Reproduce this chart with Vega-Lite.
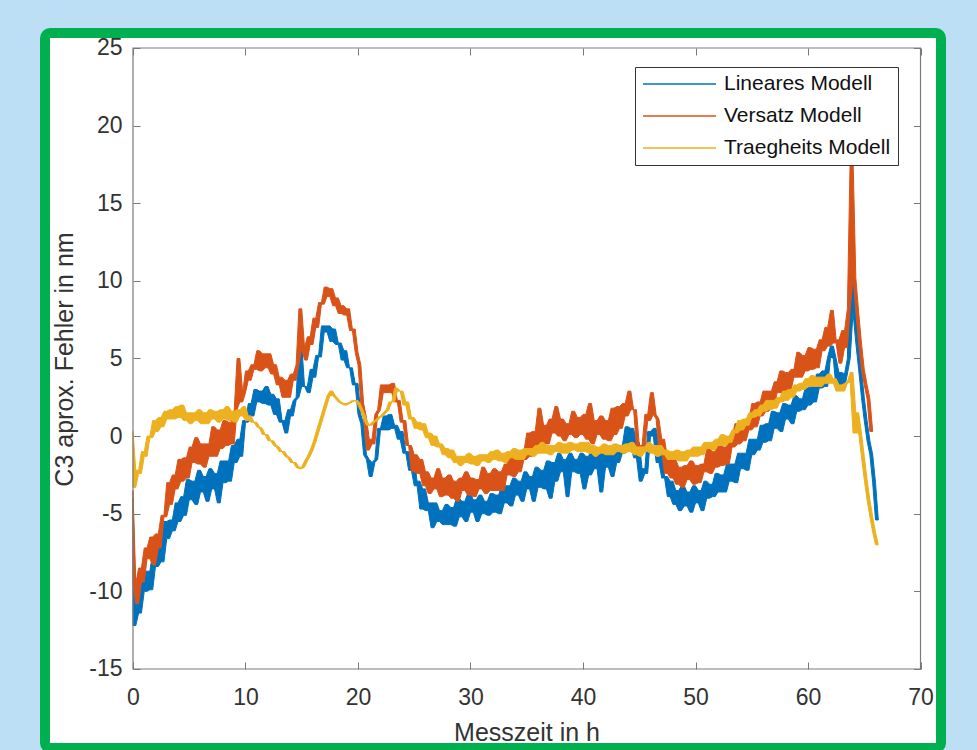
{
  "$schema": "https://vega.github.io/schema/vega-lite/v6.json",
  "width": 896,
  "height": 715,
  "autosize": {"type": "none"},
  "padding": {"left": 45, "top": 33, "right": 36, "bottom": 2},
  "background": "#BDDFF6",
  "config": {
    "font": "Liberation Sans",
    "view": {"fill": "white", "stroke": "#00B050", "strokeWidth": 10, "cornerRadius": 5},
    "axis": {"labelFont": "Liberation Sans", "titleFont": "Liberation Sans", "grid": false, "domain": false, "tickColor": "#7a7a7a", "tickWidth": 1, "tickSize": 7, "labelColor": "#333333", "titleColor": "#333333", "titleFontWeight": "normal", "labelFlush": false, "labelOverlap": false},
    "legend": {
      "orient": "none", "legendX": 590, "legendY": 34, "title": null,
      "symbolType": "stroke", "symbolSize": 5329, "symbolStrokeWidth": 1.5,
      "clipHeight": 20, "rowPadding": 11, "padding": 7,
      "strokeColor": "#333333", "fillColor": "white",
      "labelFontSize": 21, "labelFont": "Liberation Sans", "labelColor": "#111111", "labelOffset": 7, "labelLimit": 400
    }
  },
  "data": {"values": [
    {"t":0,"a":-4,"b":-3.5,"c":0.3},
    {"t":0.25,"a":-12.2,"b":-9.5,"c":-3.3},
    {"t":0.5,"a":-10.6,"b":-10.8,"c":-2.2},
    {"t":0.75,"a":-11.4,"b":-8.5,"c":-2.4},
    {"t":1,"a":-8.7,"b":-9.4,"c":-1.0},
    {"t":1.25,"a":-10.0,"b":-7.2,"c":-1.3},
    {"t":1.5,"a":-8.7,"b":-7.9,"c":0.0},
    {"t":1.75,"a":-9.9,"b":-6.5,"c":-0.1},
    {"t":2,"a":-7.5,"b":-8.3,"c":1.0},
    {"t":2.25,"a":-8.4,"b":-6.3,"c":0.3},
    {"t":2.5,"a":-7.0,"b":-7.2,"c":1.2},
    {"t":2.75,"a":-8.1,"b":-5.1,"c":0.6},
    {"t":3,"a":-5.5,"b":-5.2,"c":1.6},
    {"t":3.25,"a":-6.6,"b":-3.0,"c":1.1},
    {"t":3.5,"a":-5.4,"b":-4.4,"c":1.7},
    {"t":3.75,"a":-6.1,"b":-2.5,"c":1.1},
    {"t":4,"a":-4.3,"b":-3.4,"c":1.9},
    {"t":4.25,"a":-5.5,"b":-1.5,"c":1.2},
    {"t":4.5,"a":-3.9,"b":-2.9,"c":2.0},
    {"t":4.75,"a":-5.1,"b":-1.4,"c":1.0},
    {"t":5,"a":-2.8,"b":-2.7,"c":1.5},
    {"t":5.25,"a":-4.1,"b":-0.7,"c":0.8},
    {"t":5.5,"a":-2.9,"b":-1.7,"c":1.5},
    {"t":5.75,"a":-4.4,"b":-0.1,"c":1.0},
    {"t":6,"a":-2.2,"b":-1.8,"c":1.7},
    {"t":6.25,"a":-3.6,"b":-0.5,"c":0.8},
    {"t":6.5,"a":-2.6,"b":-2.0,"c":1.5},
    {"t":6.75,"a":-4.2,"b":-0.5,"c":0.8},
    {"t":7,"a":-2.1,"b":-1.3,"c":1.7},
    {"t":7.25,"a":-3.4,"b":0.6,"c":1.1},
    {"t":7.5,"a":-2.4,"b":-1.3,"c":1.6},
    {"t":7.75,"a":-4.3,"b":0.4,"c":0.9},
    {"t":8,"a":-1.6,"b":-0.8,"c":1.7},
    {"t":8.25,"a":-3.0,"b":1.0,"c":1.1},
    {"t":8.5,"a":-1.6,"b":-0.6,"c":1.9},
    {"t":8.75,"a":-2.9,"b":0.9,"c":1.0},
    {"t":9,"a":-0.6,"b":-0.5,"c":1.6},
    {"t":9.25,"a":-1.7,"b":1.7,"c":0.9},
    {"t":9.5,"a":-0.2,"b":5.0,"c":1.7},
    {"t":9.75,"a":-1.3,"b":2.2,"c":1.3},
    {"t":10,"a":1.0,"b":2.8,"c":1.9},
    {"t":10.25,"a":0.9,"b":4.2,"c":1.0},
    {"t":10.5,"a":2.1,"b":3.6,"c":1.3},
    {"t":10.75,"a":1.3,"b":4.6,"c":0.9},
    {"t":11,"a":3.0,"b":4.3,"c":0.9},
    {"t":11.25,"a":2.2,"b":5.5,"c":0.6},
    {"t":11.5,"a":2.9,"b":4.2,"c":0.5},
    {"t":11.75,"a":2.1,"b":5.3,"c":0.1},
    {"t":12,"a":3.2,"b":4.4,"c":0.1},
    {"t":12.25,"a":2.0,"b":5.3,"c":-0.3},
    {"t":12.5,"a":2.7,"b":4.0,"c":-0.3},
    {"t":12.75,"a":1.4,"b":4.6,"c":-0.6},
    {"t":13,"a":2.4,"b":3.3,"c":-0.7},
    {"t":13.25,"a":0.9,"b":3.8,"c":-1.0},
    {"t":13.5,"a":1.0,"b":2.5,"c":-1.0},
    {"t":13.75,"a":0.2,"b":3.6,"c":-1.3},
    {"t":14,"a":1.7,"b":2.5,"c":-1.4},
    {"t":14.25,"a":1.3,"b":4.0,"c":-1.7},
    {"t":14.5,"a":2.3,"b":3.6,"c":-1.7},
    {"t":14.75,"a":2.5,"b":4.6,"c":-2.0},
    {"t":15,"a":5.9,"b":8.2,"c":-2.1},
    {"t":15.25,"a":3.2,"b":5.7,"c":-2.0},
    {"t":15.5,"a":3.2,"b":4.9,"c":-1.6},
    {"t":15.75,"a":2.8,"b":6.4,"c":-1.3},
    {"t":16,"a":4.3,"b":5.9,"c":-0.9},
    {"t":16.25,"a":3.8,"b":7.6,"c":-0.4},
    {"t":16.5,"a":5.2,"b":7.0,"c":0.2},
    {"t":16.75,"a":5.1,"b":8.6,"c":0.8},
    {"t":17,"a":7.1,"b":8.5,"c":1.4},
    {"t":17.25,"a":6.7,"b":9.6,"c":2.0},
    {"t":17.5,"a":7.1,"b":9.0,"c":2.6},
    {"t":17.75,"a":6.1,"b":9.5,"c":2.9},
    {"t":18,"a":6.9,"b":8.4,"c":2.6},
    {"t":18.25,"a":5.9,"b":8.9,"c":2.4},
    {"t":18.5,"a":6.0,"b":7.9,"c":2.2},
    {"t":18.75,"a":4.9,"b":8.4,"c":2.1},
    {"t":19,"a":5.5,"b":7.8,"c":2.0},
    {"t":19.25,"a":4.4,"b":8.2,"c":2.1},
    {"t":19.5,"a":4.4,"b":6.8,"c":2.2},
    {"t":19.75,"a":3.3,"b":6.9,"c":2.3},
    {"t":20,"a":3.4,"b":5.4,"c":2.3},
    {"t":20.25,"a":1.4,"b":4.6,"c":2.0},
    {"t":20.5,"a":0.8,"b":2.1,"c":1.6},
    {"t":20.75,"a":-1.2,"b":1.2,"c":1.1},
    {"t":21,"a":-1.5,"b":-0.9,"c":0.7},
    {"t":21.25,"a":-2.6,"b":-0.2,"c":0.7},
    {"t":21.5,"a":-1.7,"b":-0.5,"c":0.9},
    {"t":21.75,"a":-1.5,"b":1.4,"c":1.0},
    {"t":22,"a":0.5,"b":1.7,"c":1.2},
    {"t":22.25,"a":0.4,"b":3.3,"c":1.3},
    {"t":22.5,"a":1.3,"b":2.8,"c":1.5},
    {"t":22.75,"a":0.4,"b":3.3,"c":1.7},
    {"t":23,"a":1.4,"b":2.8,"c":2.2},
    {"t":23.25,"a":0.5,"b":3.4,"c":2.2},
    {"t":23.5,"a":0.7,"b":2.2,"c":3.1},
    {"t":23.75,"a":-0.2,"b":2.3,"c":2.9},
    {"t":24,"a":0.3,"b":0.9,"c":2.9},
    {"t":24.25,"a":-1.1,"b":1.0,"c":2.0},
    {"t":24.5,"a":-1.0,"b":-0.6,"c":2.2},
    {"t":24.75,"a":-2.2,"b":-0.6,"c":1.1},
    {"t":25,"a":-1.4,"b":-2.3,"c":1.2},
    {"t":25.25,"a":-3.2,"b":-1.2,"c":0.5},
    {"t":25.5,"a":-2.9,"b":-2.4,"c":0.9},
    {"t":25.75,"a":-4.7,"b":-1.5,"c":0.4},
    {"t":26,"a":-3.4,"b":-3.2,"c":0.8},
    {"t":26.25,"a":-4.8,"b":-2.3,"c":-0.1},
    {"t":26.5,"a":-4.3,"b":-3.7,"c":0.2},
    {"t":26.75,"a":-5.9,"b":-2.7,"c":-0.6},
    {"t":27,"a":-4.3,"b":-3.4,"c":0.0},
    {"t":27.25,"a":-5.5,"b":-2.1,"c":-0.7},
    {"t":27.5,"a":-4.8,"b":-3.9,"c":-0.5},
    {"t":27.75,"a":-5.7,"b":-2.7,"c":-1.2},
    {"t":28,"a":-4.4,"b":-3.8,"c":-0.8},
    {"t":28.25,"a":-5.7,"b":-2.5,"c":-1.4},
    {"t":28.5,"a":-4.6,"b":-4.0,"c":-0.9},
    {"t":28.75,"a":-5.8,"b":-2.9,"c":-1.7},
    {"t":29,"a":-4.0,"b":-4.2,"c":-1.3},
    {"t":29.25,"a":-5.2,"b":-2.7,"c":-1.9},
    {"t":29.5,"a":-4.2,"b":-3.5,"c":-1.3},
    {"t":29.75,"a":-5.5,"b":-2.3,"c":-1.7},
    {"t":30,"a":-3.7,"b":-3.8,"c":-1.1},
    {"t":30.25,"a":-4.9,"b":-2.7,"c":-1.8},
    {"t":30.5,"a":-4.1,"b":-3.9,"c":-1.3},
    {"t":30.75,"a":-5.5,"b":-2.8,"c":-1.9},
    {"t":31,"a":-3.8,"b":-3.4,"c":-1.2},
    {"t":31.25,"a":-5.0,"b":-2.0,"c":-1.6},
    {"t":31.5,"a":-4.2,"b":-3.7,"c":-1.2},
    {"t":31.75,"a":-5.1,"b":-2.4,"c":-1.7},
    {"t":32,"a":-3.7,"b":-3.5,"c":-1.0},
    {"t":32.25,"a":-4.9,"b":-2.1,"c":-1.5},
    {"t":32.5,"a":-3.8,"b":-3.5,"c":-0.9},
    {"t":32.75,"a":-5.0,"b":-2.3,"c":-1.6},
    {"t":33,"a":-3.2,"b":-3.5,"c":-1.1},
    {"t":33.25,"a":-4.3,"b":-1.8,"c":-1.7},
    {"t":33.5,"a":-3.2,"b":-2.5,"c":-1.0},
    {"t":33.75,"a":-4.5,"b":-1.2,"c":-1.4},
    {"t":34,"a":-2.7,"b":-2.6,"c":-0.8},
    {"t":34.25,"a":-3.8,"b":-1.3,"c":-1.5},
    {"t":34.5,"a":-2.9,"b":-2.3,"c":-0.9},
    {"t":34.75,"a":-4.2,"b":-1.0,"c":-1.5},
    {"t":35,"a":-2.3,"b":-1.5,"c":-0.8},
    {"t":35.25,"a":-3.4,"b":0.2,"c":-1.2},
    {"t":35.5,"a":-2.6,"b":-1.3,"c":-0.8},
    {"t":35.75,"a":-4.2,"b":0.3,"c":-1.3},
    {"t":36,"a":-2.0,"b":-0.6,"c":-0.6},
    {"t":36.25,"a":-3.3,"b":1.8,"c":-1.1},
    {"t":36.5,"a":-2.2,"b":-0.5,"c":-0.4},
    {"t":36.75,"a":-3.4,"b":0.7,"c":-1.1},
    {"t":37,"a":-1.6,"b":-0.5,"c":-0.6},
    {"t":37.25,"a":-4.0,"b":1.1,"c":-1.2},
    {"t":37.5,"a":-1.7,"b":0.2,"c":-0.6},
    {"t":37.75,"a":-2.9,"b":1.9,"c":-1.0},
    {"t":38,"a":-1.1,"b":0.0,"c":-0.4},
    {"t":38.25,"a":-2.3,"b":1.1,"c":-1.1},
    {"t":38.5,"a":-1.5,"b":-0.3,"c":-0.5},
    {"t":38.75,"a":-3.9,"b":0.8,"c":-1.1},
    {"t":39,"a":-1.1,"b":0.1,"c":-0.4},
    {"t":39.25,"a":-2.3,"b":1.6,"c":-0.9},
    {"t":39.5,"a":-1.5,"b":-0.1,"c":-0.5},
    {"t":39.75,"a":-2.4,"b":1.2,"c":-1.0},
    {"t":40,"a":-1.1,"b":0.1,"c":-0.4},
    {"t":40.25,"a":-3.4,"b":1.4,"c":-1.0},
    {"t":40.5,"a":-1.3,"b":-0.2,"c":-0.4},
    {"t":40.75,"a":-2.5,"b":2.1,"c":-1.1},
    {"t":41,"a":-0.8,"b":-0.5,"c":-0.6},
    {"t":41.25,"a":-2.1,"b":1.0,"c":-1.3},
    {"t":41.5,"a":-1.2,"b":0.1,"c":-0.7},
    {"t":41.75,"a":-3.6,"b":1.3,"c":-1.1},
    {"t":42,"a":-0.9,"b":-0.2,"c":-0.5},
    {"t":42.25,"a":-2.0,"b":1.0,"c":-1.2},
    {"t":42.5,"a":-1.2,"b":-0.3,"c":-0.6},
    {"t":42.75,"a":-2.6,"b":1.8,"c":-1.2},
    {"t":43,"a":-0.8,"b":0.1,"c":-0.5},
    {"t":43.25,"a":-1.7,"b":1.9,"c":-1.0},
    {"t":43.5,"a":-0.6,"b":0.5,"c":-0.6},
    {"t":43.75,"a":-1.1,"b":2.1,"c":-1.1},
    {"t":44,"a":0.6,"b":1.3,"c":-0.5},
    {"t":44.25,"a":-0.6,"b":2.9,"c":-1.0},
    {"t":44.5,"a":0.5,"b":1.7,"c":-0.4},
    {"t":44.75,"a":-1.4,"b":1.7,"c":-1.2},
    {"t":45,"a":-0.4,"b":-0.7,"c":-0.7},
    {"t":45.25,"a":-2.9,"b":-0.6,"c":-1.3},
    {"t":45.5,"a":-2.1,"b":-0.9,"c":-0.7},
    {"t":45.75,"a":-2.4,"b":1.4,"c":-1.0},
    {"t":46,"a":0.3,"b":1.0,"c":-0.4},
    {"t":46.25,"a":0.0,"b":2.8,"c":-1.1},
    {"t":46.5,"a":0.5,"b":1.4,"c":-0.6},
    {"t":46.75,"a":-1.7,"b":1.1,"c":-1.3},
    {"t":47,"a":-0.8,"b":-1.0,"c":-0.6},
    {"t":47.25,"a":-2.7,"b":-0.2,"c":-1.2},
    {"t":47.5,"a":-2.6,"b":-2.4,"c":-0.9},
    {"t":47.75,"a":-3.9,"b":-1.4,"c":-1.5},
    {"t":48,"a":-2.9,"b":-2.7,"c":-1.0},
    {"t":48.25,"a":-4.4,"b":-1.5,"c":-1.5},
    {"t":48.5,"a":-3.5,"b":-3.1,"c":-0.9},
    {"t":48.75,"a":-4.8,"b":-2.0,"c":-1.6},
    {"t":49,"a":-3.2,"b":-3.3,"c":-1.0},
    {"t":49.25,"a":-4.5,"b":-1.9,"c":-1.6},
    {"t":49.5,"a":-3.6,"b":-2.8,"c":-0.9},
    {"t":49.75,"a":-4.9,"b":-1.6,"c":-1.3},
    {"t":50,"a":-3.2,"b":-3.1,"c":-0.7},
    {"t":50.25,"a":-4.3,"b":-1.9,"c":-1.3},
    {"t":50.5,"a":-3.5,"b":-3.0,"c":-0.7},
    {"t":50.75,"a":-4.8,"b":-1.8,"c":-1.2},
    {"t":51,"a":-2.9,"b":-2.3,"c":-0.4},
    {"t":51.25,"a":-4.0,"b":-0.8,"c":-0.8},
    {"t":51.5,"a":-3.1,"b":-2.4,"c":-0.4},
    {"t":51.75,"a":-3.9,"b":-1.0,"c":-0.9},
    {"t":52,"a":-2.4,"b":-2.0,"c":-0.2},
    {"t":52.25,"a":-3.6,"b":-0.6,"c":-0.6},
    {"t":52.5,"a":-2.5,"b":-1.9,"c":0.1},
    {"t":52.75,"a":-3.6,"b":-0.7,"c":-0.6},
    {"t":53,"a":-1.8,"b":-1.8,"c":0.0},
    {"t":53.25,"a":-2.9,"b":-0.1,"c":-0.4},
    {"t":53.5,"a":-1.8,"b":-0.7,"c":0.4},
    {"t":53.75,"a":-3.0,"b":0.8,"c":0.2},
    {"t":54,"a":-1.1,"b":-0.5,"c":1.0},
    {"t":54.25,"a":-2.1,"b":0.8,"c":0.4},
    {"t":54.5,"a":-1.1,"b":-0.3,"c":1.1},
    {"t":54.75,"a":-2.2,"b":1.0,"c":0.7},
    {"t":55,"a":-0.2,"b":0.4,"c":1.5},
    {"t":55.25,"a":-1.2,"b":2.1,"c":1.2},
    {"t":55.5,"a":-0.2,"b":0.6,"c":1.7},
    {"t":55.75,"a":-0.9,"b":2.2,"c":1.3},
    {"t":56,"a":0.7,"b":1.3,"c":2.0},
    {"t":56.25,"a":-0.4,"b":2.9,"c":1.6},
    {"t":56.5,"a":0.8,"b":1.6,"c":2.3},
    {"t":56.75,"a":-0.3,"b":2.9,"c":1.7},
    {"t":57,"a":1.6,"b":1.8,"c":2.3},
    {"t":57.25,"a":0.5,"b":3.5,"c":1.8},
    {"t":57.5,"a":1.5,"b":2.8,"c":2.5},
    {"t":57.75,"a":0.3,"b":4.2,"c":2.2},
    {"t":58,"a":2.1,"b":2.8,"c":2.9},
    {"t":58.25,"a":1.1,"b":4.1,"c":2.3},
    {"t":58.5,"a":2.0,"b":3.0,"c":3.0},
    {"t":58.75,"a":0.8,"b":4.3,"c":2.5},
    {"t":59,"a":2.6,"b":3.8,"c":3.3},
    {"t":59.25,"a":1.6,"b":5.4,"c":2.9},
    {"t":59.5,"a":2.4,"b":3.8,"c":3.4},
    {"t":59.75,"a":1.7,"b":5.2,"c":3.0},
    {"t":60,"a":3.1,"b":4.2,"c":3.7},
    {"t":60.25,"a":2.0,"b":5.7,"c":3.2},
    {"t":60.5,"a":3.2,"b":4.3,"c":3.9},
    {"t":60.75,"a":2.2,"b":5.6,"c":3.2},
    {"t":61,"a":4.0,"b":4.4,"c":3.8},
    {"t":61.25,"a":3.1,"b":6.2,"c":3.2},
    {"t":61.5,"a":4.2,"b":5.5,"c":3.8},
    {"t":61.75,"a":3.2,"b":7.0,"c":3.4},
    {"t":62,"a":5.1,"b":5.8,"c":4.0},
    {"t":62.25,"a":5.8,"b":8.1,"c":3.4},
    {"t":62.5,"a":5.0,"b":6.0,"c":3.7},
    {"t":62.75,"a":3.0,"b":6.2,"c":2.9},
    {"t":63,"a":4.1,"b":4.7,"c":3.3},
    {"t":63.25,"a":3.1,"b":6.8,"c":2.9},
    {"t":63.5,"a":4.0,"b":5.7,"c":3.4},
    {"t":63.75,"a":5.0,"b":8.2,"c":3.5},
    {"t":64,"a":12.8,"b":18.0,"c":4.1},
    {"t":64.25,"a":8.0,"b":10.2,"c":0.2},
    {"t":64.5,"a":6.0,"b":8.0,"c":1.5},
    {"t":64.75,"a":4.3,"b":6.0,"c":0.2},
    {"t":65,"a":2.5,"b":4.3,"c":-1.3},
    {"t":65.25,"a":1.0,"b":3.3,"c":-2.8},
    {"t":65.5,"a":-0.3,"b":2.4,"c":-4.1},
    {"t":65.75,"a":-1.2,"b":0.3,"c":-5.2},
    {"t":66,"a":-3.0,"b":null,"c":-6.2},
    {"t":66.25,"a":-5.4,"b":null,"c":-7.0}
  ]},
  "layer": [
    {
      "transform": [
        {"fold": ["a", "b", "c"], "as": ["s", "v"]},
        {"filter": "isValid(datum.v)"},
        {"window": [{"op": "min", "field": "v", "as": "lo"}, {"op": "max", "field": "v", "as": "hi"}], "frame": [0, 1], "groupby": ["s"], "sort": [{"field": "t"}]}
      ],
      "mark": {"type": "area", "strokeWidth": 1, "fillOpacity": 1, "clip": true},
      "encoding": {
        "x": {
          "field": "t", "type": "quantitative",
          "scale": {"domain": [-7.822, 71.822], "nice": false, "zero": false},
          "axis": {
            "orient": "bottom", "values": [0, 10, 20, 30, 40, 50, 60, 70], "offset": -86,
            "labelFontSize": 23, "labelPadding": 17, "labelExpr": "'' + datum.value",
            "title": "Messzeit in h", "titleFontSize": 25,
            "titleX": 481.5, "titleY": 78, "titleBaseline": "alphabetic", "titleAlign": "center"
          }
        },
        "y": {
          "field": "lo", "type": "quantitative",
          "scale": {"domain": [-20.089, 25.966], "nice": false, "zero": false},
          "axis": {
            "orient": "left", "values": [-15, -10, -5, 0, 5, 10, 15, 20, 25], "offset": -95,
            "labelFontSize": 23, "labelPadding": 11, "labelExpr": "'' + datum.value",
            "title": "C3 aprox. Fehler in nm", "titleFontSize": 25, "titleAngle": -90,
            "titleX": -68, "titleY": 326, "titleBaseline": "alphabetic", "titleAlign": "center"
          }
        },
        "y2": {"field": "hi"},
        "fill": {
          "field": "s", "type": "nominal",
          "scale": {"domain": ["a", "b", "c"], "range": ["#0072BD", "#D95319", "#EDB120"]},
          "legend": {"labelExpr": "datum.label == 'a' ? 'Lineares Modell' : datum.label == 'b' ? 'Versatz Modell' : 'Traegheits Modell'"}
        },
        "stroke": {
          "field": "s", "type": "nominal",
          "scale": {"domain": ["a", "b", "c"], "range": ["#0072BD", "#D95319", "#EDB120"]},
          "legend": {"labelExpr": "datum.label == 'a' ? 'Lineares Modell' : datum.label == 'b' ? 'Versatz Modell' : 'Traegheits Modell'"}
        }
      }
    },
    {
      "data": {"values": [{}]},
      "mark": {"type": "rect", "fill": "white", "fillOpacity": 0, "stroke": "#7a7a7a", "strokeWidth": 1.2},
      "encoding": {
        "x": {"datum": 0, "type": "quantitative",
          "axis": {"orient": "top", "values": [0, 10, 20, 30, 40, 50, 60, 70], "offset": -22, "labels": false, "title": null}},
        "x2": {"datum": 70},
        "y": {"datum": -15, "type": "quantitative",
          "axis": {"orient": "right", "values": [-15, -10, -5, 0, 5, 10, 15, 20, 25], "offset": -27.5, "labels": false, "title": null}},
        "y2": {"datum": 25}
      }
    }
  ],
  "resolve": {"axis": {"x": "independent", "y": "independent"}}
}
